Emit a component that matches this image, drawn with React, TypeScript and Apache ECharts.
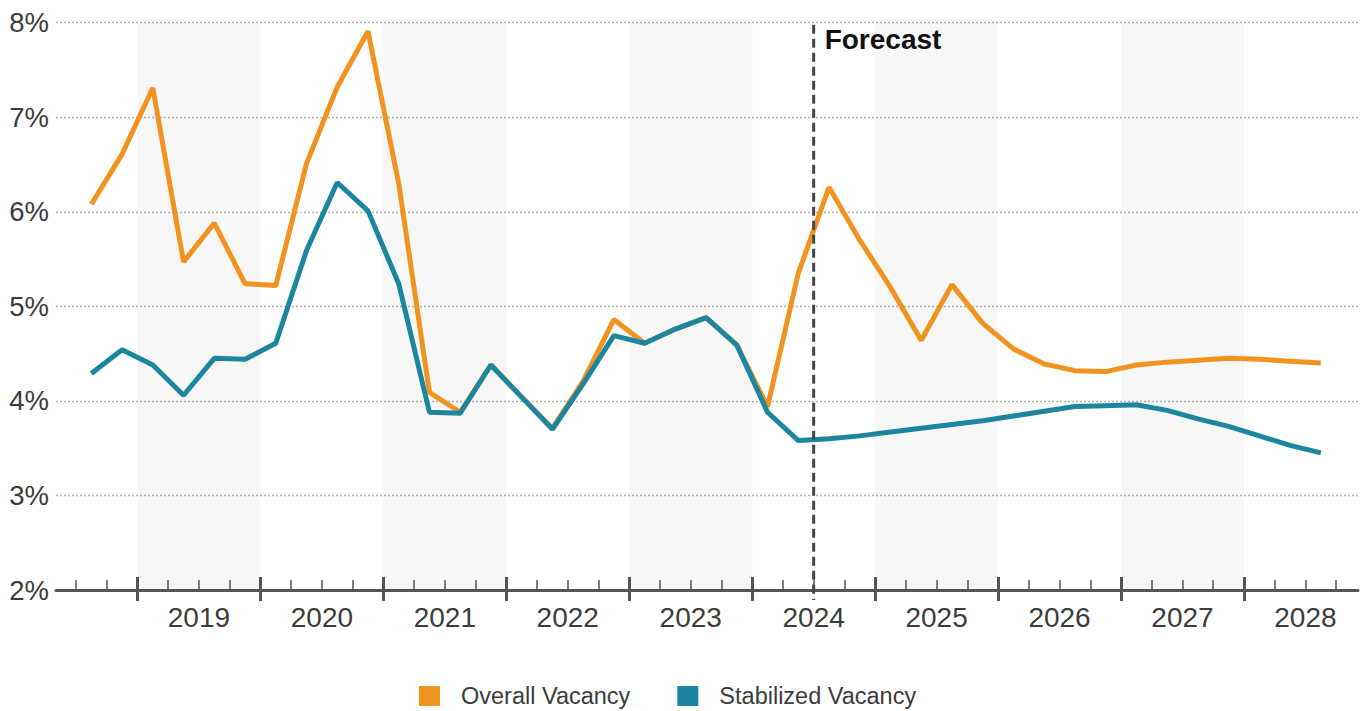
import React, { useEffect, useRef } from "react";
import * as echarts from "echarts";

// Quarterly observations, 2018 Q3 .. 2028 Q3
const quarters = [
  "2018 Q3", "2018 Q4",
  "2019 Q1", "2019 Q2", "2019 Q3", "2019 Q4",
  "2020 Q1", "2020 Q2", "2020 Q3", "2020 Q4",
  "2021 Q1", "2021 Q2", "2021 Q3", "2021 Q4",
  "2022 Q1", "2022 Q2", "2022 Q3", "2022 Q4",
  "2023 Q1", "2023 Q2", "2023 Q3", "2023 Q4",
  "2024 Q1", "2024 Q2", "2024 Q3", "2024 Q4",
  "2025 Q1", "2025 Q2", "2025 Q3", "2025 Q4",
  "2026 Q1", "2026 Q2", "2026 Q3", "2026 Q4",
  "2027 Q1", "2027 Q2", "2027 Q3", "2027 Q4",
  "2028 Q1", "2028 Q2", "2028 Q3",
];

const overallVacancy = [
  6.08, 6.61,
  7.31, 5.47, 5.88, 5.24,
  5.22, 6.51, 7.32, 7.91,
  6.30, 4.09, 3.88, 4.38,
  4.04, 3.71, 4.21, 4.86,
  4.61, 4.76, 4.88, 4.59,
  3.94, 5.35, 6.26, 5.70,
  5.20, 4.64, 5.23, 4.82,
  4.55, 4.39, 4.32, 4.31,
  4.38, 4.41, 4.43, 4.45,
  4.44, 4.42, 4.40,
];

const stabilizedVacancy = [
  4.29, 4.54,
  4.38, 4.06, 4.45, 4.44,
  4.61, 5.59, 6.31, 6.01,
  5.24, 3.88, 3.87, 4.38,
  4.04, 3.70, 4.18, 4.69,
  4.61, 4.76, 4.88, 4.59,
  3.88, 3.58, 3.60, 3.63,
  3.67, 3.71, 3.75, 3.79,
  3.84, 3.89, 3.94, 3.95,
  3.96, 3.90, 3.81, 3.73,
  3.63, 3.53, 3.45,
];

const yearLabels = [2019, 2020, 2021, 2022, 2023, 2024, 2025, 2026, 2027, 2028];
const shadedYears = [2019, 2021, 2023, 2025, 2027];
const yTicks = [2, 3, 4, 5, 6, 7, 8];
const forecastStart = "2024 Q3";
const forecastLabel = "Forecast";
const seriesNames = ["Overall Vacancy", "Stabilized Vacancy"];

const BASE_YEAR = 2018;
// quarter axis: value q = (year - BASE_YEAR) * 4 + (quarter - 1); a quarter spans [q, q+1]
const qStart = (label: string) => {
  const [y, q] = label.split(" ");
  return (parseInt(y, 10) - BASE_YEAR) * 4 + (parseInt(q.slice(1), 10) - 1);
};
const yearStart = (y: number) => (y - BASE_YEAR) * 4;

const X_MIN = 1.35;
const X_MAX = 43.71;

const FONT = '"Liberation Sans", Arial, sans-serif';
const ORANGE = "#F2931F";
const TEAL = "#1C86A0";
const AXIS = "#555555";
const TEXT = "#3c3c3c";

export default function App() {
  const ref = useRef<HTMLDivElement>(null);

  useEffect(() => {
    if (!ref.current) return;
    const chart = echarts.init(ref.current, undefined, { renderer: "svg" });

    const toPoints = (vals: number[]) =>
      vals.map((v, i) => [qStart(quarters[i]) + 0.5, v]);

    const minorTicks: number[] = [];
    for (let q = Math.ceil(X_MIN); q <= Math.floor(X_MAX); q++) {
      if (q % 4 !== 0) minorTicks.push(q);
    }
    const majorTicks = yearLabels.map((y) => yearStart(y)).filter((v) => v > X_MIN && v < X_MAX);
    const labelPos = yearLabels.map((y) => yearStart(y) + 2);

    const baseX = {
      type: "value" as const,
      min: X_MIN,
      max: X_MAX,
      position: "bottom" as const,
      offset: 0,
      splitLine: { show: false },
    };

    chart.setOption({
      animation: false,
      textStyle: { fontFamily: FONT },
      grid: { left: 56, right: 10, top: 22.7, bottom: 121, containLabel: false },
      legend: {
        data: seriesNames,
        left: 419,
        top: 684,
        padding: 0,
        itemWidth: 21,
        itemHeight: 20,
        itemGap: 47,
        icon: "rect",
        textStyle: { fontSize: 23.5, color: TEXT, fontFamily: FONT, padding: [0, 0, 0, 16] },
      },
      xAxis: [
        {
          ...baseX,
          axisLine: { show: true, lineStyle: { color: AXIS, width: 3 } },
          axisTick: {
            show: true,
            inside: true,
            length: 10,
            customValues: minorTicks,
            lineStyle: { color: AXIS, width: 1.5 },
          },
          axisLabel: {
            show: true,
            customValues: labelPos,
            formatter: (v: number) => String(BASE_YEAR + Math.round((v - 2) / 4)),
            fontSize: 28,
            color: TEXT,
            fontFamily: FONT,
            margin: 13,
          },
        },
        {
          ...baseX,
          axisLine: { show: false },
          axisTick: {
            show: true,
            inside: true,
            length: 13,
            customValues: majorTicks,
            lineStyle: { color: AXIS, width: 3 },
          },
          axisLabel: { show: false },
        },
        {
          ...baseX,
          axisLine: { show: false },
          axisTick: {
            show: true,
            inside: false,
            length: 11,
            customValues: majorTicks,
            lineStyle: { color: AXIS, width: 3 },
          },
          axisLabel: { show: false },
        },
      ],
      yAxis: {
        type: "value",
        min: yTicks[0],
        max: yTicks[yTicks.length - 1],
        interval: 1,
        axisLine: { show: false },
        axisTick: { show: false },
        axisLabel: {
          formatter: (v: number) => `${v}%`,
          fontSize: 27.5,
          color: TEXT,
          fontFamily: FONT,
          margin: 7,
        },
        splitLine: {
          show: true,
          lineStyle: { color: "#b4b4b4", width: 1.3, type: [2, 2] },
        },
      },
      series: [
        {
          name: "bands",
          type: "line",
          data: [],
          z: 1,
          silent: true,
          markArea: {
            silent: true,
            itemStyle: { color: "rgba(0,0,0,0.032)" },
            data: shadedYears.map((y) => [{ xAxis: yearStart(y) }, { xAxis: yearStart(y) + 4 }]),
          },
        },
        {
          name: seriesNames[0],
          type: "line",
          data: toPoints(overallVacancy),
          showSymbol: false,
          symbol: "none",
          lineStyle: { color: ORANGE, width: 5 },
          itemStyle: { color: ORANGE },
          z: 3,
        },
        {
          name: seriesNames[1],
          type: "line",
          data: toPoints(stabilizedVacancy),
          showSymbol: false,
          symbol: "none",
          lineStyle: { color: TEAL, width: 5 },
          itemStyle: { color: TEAL },
          z: 4,
        },
      ],
    });

    const fx = qStart(forecastStart);
    const top = chart.convertToPixel({ xAxisIndex: 0, yAxisIndex: 0 }, [fx, yTicks[yTicks.length - 1]]) as number[];
    const bottom = chart.convertToPixel({ xAxisIndex: 0, yAxisIndex: 0 }, [fx, yTicks[0]]) as number[];
    chart.setOption({
      graphic: [
        {
          type: "line",
          z: 10,
          shape: { x1: top[0], y1: top[1] + 2, x2: bottom[0], y2: bottom[1] + 10 },
          style: { stroke: "#454545", lineWidth: 3, lineDash: [9, 5] },
        },
        {
          type: "text",
          z: 10,
          x: top[0] + 11,
          y: top[1] + 3,
          style: {
            text: forecastLabel,
            font: `bold 28px ${FONT}`,
            fill: "#111111",
            textAlign: "left",
            textVerticalAlign: "top",
          },
        },
      ],
    });

    return () => chart.dispose();
  }, []);

  return (
    <div
      ref={ref}
      style={{ position: "fixed", left: 0, top: 0, width: 1368, height: 711, background: "#ffffff" }}
    />
  );
}
